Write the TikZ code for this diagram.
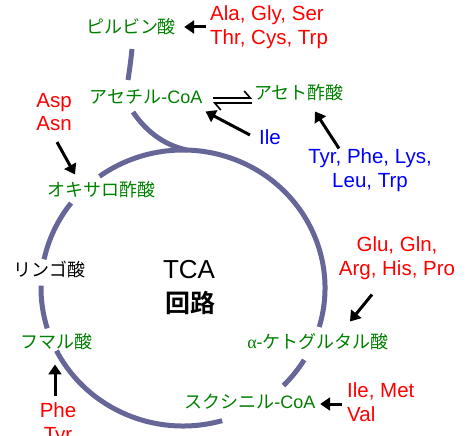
\documentclass[tikz,border=0pt]{standalone}
\usepackage{fontspec}
\setmainfont{Liberation Sans}
\newfontfamily\jp{Noto Sans CJK JP}[BoldFont={Noto Sans CJK JP Bold}]
\newfontfamily\grk{Liberation Serif}
\usetikzlibrary{arrows.meta}
\definecolor{jgreen}{RGB}{0,128,0}
\definecolor{ringc}{RGB}{102,102,153}
\definecolor{aared}{RGB}{255,0,0}
\definecolor{aablue}{RGB}{0,0,255}
\begin{document}
\begin{tikzpicture}[x=1pt,y=1pt,
  met/.style={font=\fontsize{18}{21}\selectfont, text=jgreen, inner sep=0pt},
  plain/.style={font=\fontsize{18}{21}\selectfont, text=black, inner sep=0pt},
  aa/.style={font=\fontsize{20.5}{23.5}\selectfont, inner sep=0pt, align=center},
  aal/.style={font=\fontsize{20.5}{23.5}\selectfont, inner sep=0pt, align=left},
  ringline/.style={draw=ringc, line width=5pt},
  arr/.style={draw=black, line width=3pt, -{Triangle[length=10pt,width=13pt]}},
  harp/.style={draw=black, line width=1.6pt, -{Straight Barb[harpoon,length=6pt,width=14pt]}}
]
\useasboundingbox (0,0) rectangle (475,-436);

% ring
\draw[ringline] (183,-288) ++(-16.4:142 and 138) arc[start angle=-16.4, end angle=126, x radius=142, y radius=138];
\draw[ringline] (183,-288) ++(142:142 and 138) arc[start angle=142, end angle=168, x radius=142, y radius=138];
\draw[ringline] (183,-288) ++(179:142 and 138) arc[start angle=179, end angle=197, x radius=142, y radius=138];
\draw[ringline] (183,-288) ++(207:142 and 138) arc[start angle=207, end angle=286, x radius=142, y radius=138];
\draw[ringline] (183,-288) ++(315:142 and 138) arc[start angle=315, end angle=328.6, x radius=142, y radius=138];
% feeder line
\draw[ringline] (132,-49) .. controls (130.5,-63) .. (128,-80);
\draw[ringline] (133,-112) .. controls (145,-130) and (163,-145) .. (187,-150);

% metabolites
\node[met] (pyr) at (131,-27) {\jp ピルビン酸};
\node[met] (acoa) at (146,-97) {{\jp アセチル}-CoA};
\node[met] (aceto) at (299,-93) {\jp アセト酢酸};
\node[met] (oxa) at (102,-190) {\jp オキサロ酢酸};
\node[plain] (mal) at (49,-270) {\jp リンゴ酸};
\node[met] (fum) at (56,-342) {\jp フマル酸};
\node[met] (akg) at (318,-342) {{\grk α}-{\jp ケトグルタル酸}};
\node[met] (suc) at (250,-402) {{\jp スクシニル}-CoA};

\node[font=\fontsize{26}{30}\selectfont, inner sep=0pt] (tca) at (189,-270) {TCA};
\node[font=\fontsize{25}{30}\selectfont\jp\bfseries, inner sep=0pt] (kairo) at (190,-303) {回路};

% amino acids
\node[aal, text=aared, anchor=west] (aapyr) at (210,-27) {Ala, Gly, Ser\\Thr, Cys, Trp};
\node[aa, text=aared] (asp) at (54,-112) {Asp\\Asn};
\node[aa, text=aablue] (ile1) at (270,-137) {Ile};
\node[aa, text=aablue] (tyr) at (370,-170) {Tyr, Phe, Lys,\\Leu, Trp};
\node[aa, text=aared] (glu) at (397,-258) {Glu, Gln,\\Arg, His, Pro};
\node[aal, text=aared, anchor=west] (ile2) at (347,-402) {Ile, Met\\Val};
\node[aa, text=aared] (phe) at (58,-424) {Phe\\Tyr};

% arrows
\draw[arr] ([xshift=-4pt]aapyr.west |- pyr.east) -- ([xshift=8pt]pyr.east);
\draw[arr] ([shift={(-9pt,2pt)}]ile1.west) -- ([shift={(3pt,-7pt)}]acoa.south east);
\draw[arr] ([xshift=-31pt]tyr.north) -- ([shift={(16pt,-10pt)}]aceto.south);
\draw[arr] ([shift={(3pt,-11pt)}]asp.south) -- ([shift={(-27pt,7pt)}]oxa.north);
\draw[arr] ([shift={(-3pt,6pt)}]phe.north) -- ([shift={(-1pt,-14pt)}]fum.south);
\draw[arr] ([shift={(-25pt,-15pt)}]glu.south) -- ([shift={(32pt,12pt)}]akg.north);
\draw[arr] ([shift={(-5pt,-2pt)}]ile2.west) -- ([shift={(4.5pt,-2pt)}]suc.east);
% equilibrium
\draw[harp] ([shift={(10.5pt,-1pt)}]acoa.east) -- ([shift={(-2pt,-5pt)}]aceto.west);
\draw[harp] ([shift={(-2pt,-10pt)}]aceto.west) -- ([shift={(10.5pt,-6pt)}]acoa.east);
\end{tikzpicture}
\end{document}
